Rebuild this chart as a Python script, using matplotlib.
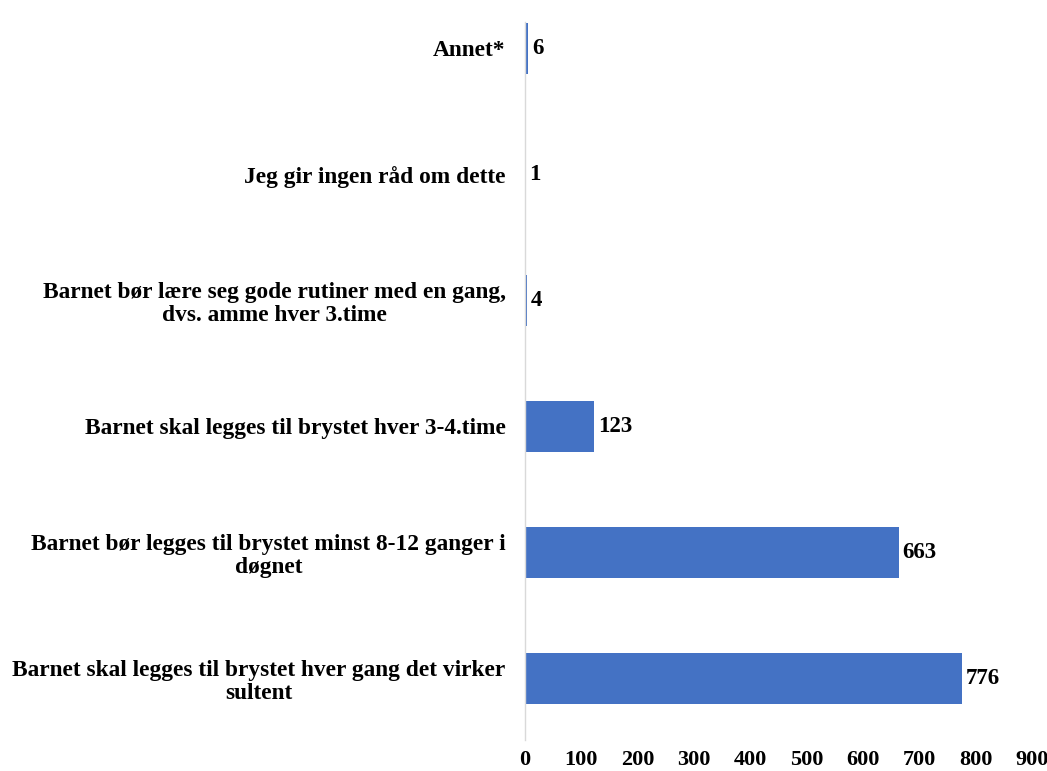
import numpy as np
import matplotlib.pyplot as plt

categories = [
    "Barnet skal legges til brystet hver gang det virker\nsultent",
    "Barnet bør legges til brystet minst 8-12 ganger i\ndøgnet",
    "Barnet skal legges til brystet hver 3-4.time",
    "Barnet bør lære seg gode rutiner med en gang,\ndvs. amme hver 3.time",
    "Jeg gir ingen råd om dette",
    "Annet*",
]
values = [776, 663, 123, 4, 1, 6]
xticks = [0, 100, 200, 300, 400, 500, 600, 700, 800, 900]

plt.rcParams['font.family'] = ['Liberation Serif', 'DejaVu Serif']
plt.rcParams['font.weight'] = 'bold'

fig = plt.figure(figsize=(10.47, 7.71), dpi=100)
ax = fig.add_axes([0.5015, 0.04, 0.4845, 0.9315])

y = np.arange(len(categories))
ax.barh(y, values, height=0.4, color='#4472C4')

for yi, v in zip(y, values):
    ax.text(v + 6, yi, str(v), va='center', ha='left', fontsize=16.5, fontweight='bold')

ax.set_xlim(0, 900)
ax.set_ylim(-0.49, 5.21)
ax.set_yticks(y)
ax.set_yticklabels(categories, fontsize=16.8, fontweight='bold',
                   multialignment='center', linespacing=1.1)
ax.tick_params(axis='y', length=0, pad=14)

ax.set_xticks(xticks)
ax.set_xticklabels([str(t) for t in xticks], fontsize=16, fontweight='bold')
ax.tick_params(axis='x', length=0, pad=7)

for side in ['top', 'right', 'bottom']:
    ax.spines[side].set_visible(False)
ax.spines['left'].set_color('#D9D9D9')
ax.spines['left'].set_linewidth(1)

fig.savefig('out.png', dpi=100, facecolor='white')
